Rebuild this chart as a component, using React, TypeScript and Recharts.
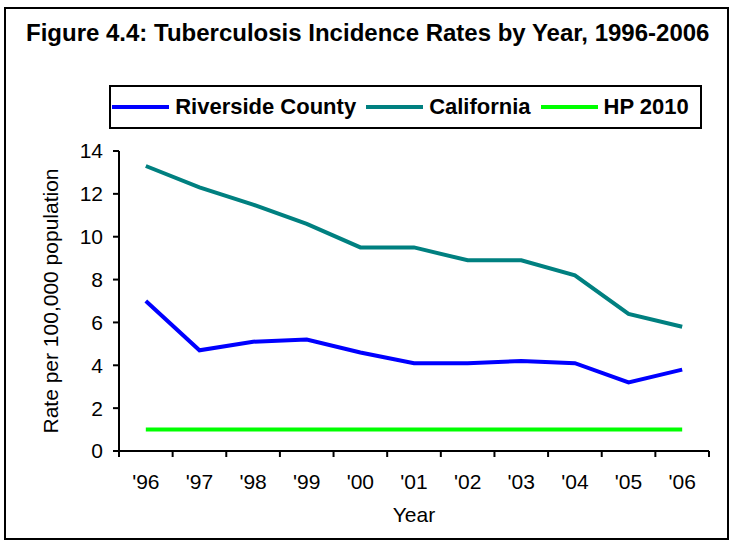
import { LineChart, Line, XAxis, YAxis } from 'recharts'

const years = ["'96", "'97", "'98", "'99", "'00", "'01", "'02", "'03", "'04", "'05", "'06"]
const riverside = [7.0, 4.7, 5.1, 5.2, 4.6, 4.1, 4.1, 4.2, 4.1, 3.2, 3.8]
const california = [13.3, 12.3, 11.5, 10.6, 9.5, 9.5, 8.9, 8.9, 8.2, 6.4, 5.8]
const hp2010 = [1, 1, 1, 1, 1, 1, 1, 1, 1, 1, 1]
const yTicks = [0, 2, 4, 6, 8, 10, 12, 14]

const series = [
  { key: 'riverside', name: 'Riverside County', color: '#0000FF' },
  { key: 'california', name: 'California', color: '#008080' },
  { key: 'hp', name: 'HP 2010', color: '#00FF00' },
]

const data = years.map((year, i) => ({
  year,
  riverside: riverside[i],
  california: california[i],
  hp: hp2010[i],
}))

const FONT = '"Liberation Sans", Arial, sans-serif'
const axisLine = { stroke: '#000', strokeWidth: 2 }

// label centred in the band, tick marks on the band edges (Excel style)
function YearTick({ x, y, payload, index, visibleTicksCount }: any) {
  const half = payload?.offset || 0
  const last = index === visibleTicksCount - 1
  return (
    <g>
      <line x1={x - half} x2={x - half} y1={y} y2={y + 6} stroke="#000" strokeWidth={2} />
      {last && <line x1={x + half} x2={x + half} y1={y} y2={y + 6} stroke="#000" strokeWidth={2} />}
      <text x={x} y={y + 23} dy="0.71em" textAnchor="middle" fill="#000" fontSize={21} fontFamily={FONT}>
        {payload.value}
      </text>
    </g>
  )
}

function LegendBox() {
  return (
    <div
      style={{
        position: 'absolute',
        left: 109,
        top: 85,
        width: 593,
        height: 44,
        boxSizing: 'border-box',
        border: '2px solid #000',
        display: 'flex',
        alignItems: 'center',
        justifyContent: 'center',
        fontWeight: 'bold',
        fontSize: 22,
        color: '#000',
        whiteSpace: 'nowrap',
      }}
    >
      {series.map((s) => (
        <span key={s.key} style={{ display: 'flex', alignItems: 'center', marginRight: 10 }}>
          <span style={{ display: 'inline-block', width: 57, height: 4, background: s.color, marginRight: 6 }} />
          {s.name}
        </span>
      ))}
    </div>
  )
}

export default function App() {
  return (
    <div
      style={{
        position: 'absolute',
        left: 0,
        top: 0,
        width: 733,
        height: 543,
        background: '#fff',
        fontFamily: FONT,
      }}
    >
      <div
        style={{
          position: 'absolute',
          left: 4,
          top: 7,
          width: 725,
          height: 533,
          border: '2px solid #000',
          boxSizing: 'border-box',
        }}
      />
      <div
        style={{
          position: 'absolute',
          left: 26,
          top: 19,
          fontWeight: 'bold',
          fontSize: 24,
          lineHeight: '28px',
          color: '#000',
          whiteSpace: 'nowrap',
        }}
      >
        Figure 4.4: Tuberculosis Incidence Rates by Year, 1996-2006
      </div>
      <LegendBox />
      <div style={{ position: 'absolute', left: 0, top: 0 }}>
        <LineChart width={733} height={543} data={data} margin={{ top: 151, right: 24, bottom: 12, left: 39 }}>
          <XAxis
            dataKey="year"
            scale="band"
            height={80}
            axisLine={axisLine}
            tickLine={false}
            tickSize={0}
            tickMargin={0}
            tick={<YearTick />}
            interval={0}
            label={{ value: 'Year', position: 'insideBottom', offset: 9, fill: '#000', fontSize: 21, fontFamily: FONT }}
          />
          <XAxis xAxisId="top" orientation="top" dataKey="year" height={0} tick={false} tickLine={false} axisLine={axisLine} />
          <YAxis
            width={80}
            domain={[0, 14]}
            ticks={yTicks}
            interval={0}
            axisLine={axisLine}
            tickLine={{ stroke: '#000', strokeWidth: 2 }}
            tickSize={6}
            tickMargin={10}
            tick={{ fill: '#000', fontSize: 21, fontFamily: FONT }}
            label={{
              value: 'Rate per 100,000 population',
              angle: -90,
              position: 'insideLeft',
              offset: 12,
              style: { textAnchor: 'middle' },
              fill: '#000',
              fontSize: 21,
              fontFamily: FONT,
            }}
          />
          <YAxis yAxisId="right" orientation="right" width={0} domain={[0, 14]} tick={false} tickLine={false} axisLine={axisLine} />
          {series.map((s) => (
            <Line
              key={s.key}
              type="linear"
              dataKey={s.key}
              name={s.name}
              stroke={s.color}
              strokeWidth={4}
              dot={false}
              isAnimationActive={false}
            />
          ))}
        </LineChart>
      </div>
    </div>
  )
}
